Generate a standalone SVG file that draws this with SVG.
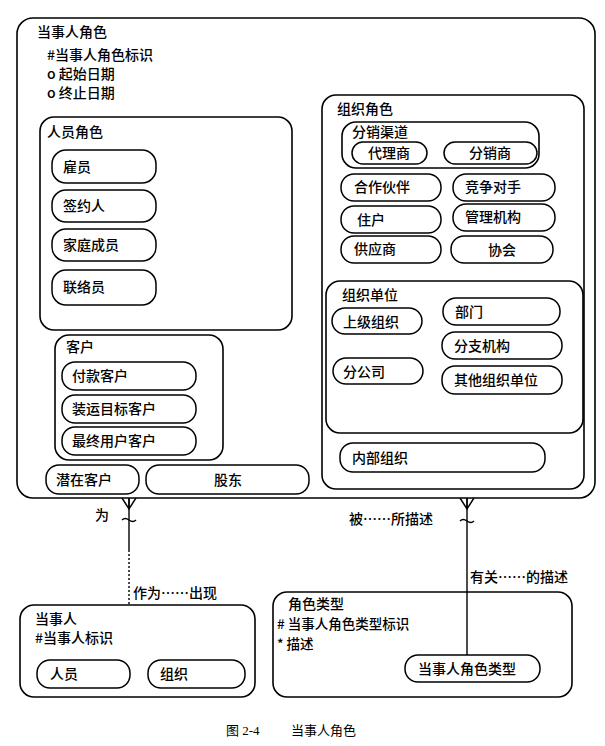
<svg xmlns="http://www.w3.org/2000/svg" width="605" height="746" viewBox="0 0 605 746">
<style>
  .box{fill:none;stroke:#000;stroke-width:1.6}
  .nd{fill:#fff;stroke:#000;stroke-width:1.5}
  text{font-family:"Noto Sans CJK SC","Liberation Sans",sans-serif;font-size:14px;font-weight:500;fill:#000}
  .c{text-anchor:middle}
  .sm{font-size:13.5px}
  .ln{fill:none;stroke:#000;stroke-width:1.4}
  .cap{font-family:"Liberation Serif","Noto Sans CJK SC",serif;font-size:13px;font-weight:normal}
</style>
<rect width="605" height="746" fill="#fff"/>

<g id="party-role">
  <rect class="box" x="17" y="18" width="578" height="480" rx="16"/>
  <text x="37" y="37">当事人角色</text>
  <text x="47" y="60">#当事人角色标识</text>
  <text x="47" y="79">o 起始日期</text>
  <text x="47" y="98">o 终止日期</text>
</g>

<g id="person-role">
  <rect class="box" x="40" y="117" width="252" height="213" rx="14"/>
  <text x="47" y="137">人员角色</text>
</g>
<g id="employee"><rect class="nd" x="52" y="150" width="104" height="33" rx="14"/><text x="63" y="172">雇员</text></g>
<g id="contractor"><rect class="nd" x="52" y="190" width="104" height="32" rx="14"/><text x="63" y="211">签约人</text></g>
<g id="family"><rect class="nd" x="52" y="229" width="104" height="32" rx="14"/><text x="63" y="250">家庭成员</text></g>
<g id="contact"><rect class="nd" x="52" y="270" width="104" height="35" rx="14"/><text x="63" y="292">联络员</text></g>

<g id="customer">
  <rect class="box" x="55" y="335" width="168" height="125" rx="14"/>
  <text x="66" y="352">客户</text>
</g>
<g id="bill-to"><rect class="nd" x="62" y="362" width="134" height="28" rx="13"/><text x="72" y="381">付款客户</text></g>
<g id="ship-to"><rect class="nd" x="62" y="395" width="134" height="28" rx="13"/><text x="72" y="414">装运目标客户</text></g>
<g id="end-user"><rect class="nd" x="62" y="427" width="134" height="28" rx="13"/><text x="72" y="446">最终用户客户</text></g>
<g id="prospect"><rect class="nd" x="46" y="465" width="93" height="29" rx="13"/><text x="56" y="485">潜在客户</text></g>
<g id="shareholder"><rect class="nd" x="146" y="465" width="163" height="29" rx="13"/><text class="c" x="228" y="485">股东</text></g>

<g id="org-role">
  <rect class="box" x="322" y="95" width="262" height="394" rx="14"/>
  <text x="337" y="114">组织角色</text>
</g>
<g id="channel">
  <rect class="box" x="342" y="122" width="197" height="46" rx="14"/>
  <text x="352" y="137">分销渠道</text>
</g>
<g id="agent"><rect class="nd" x="352" y="142" width="75" height="22" rx="11"/><text class="c" x="389" y="158">代理商</text></g>
<g id="distributor"><rect class="nd" x="444" y="142" width="93" height="22" rx="11"/><text class="c" x="490" y="158">分销商</text></g>
<g id="partner"><rect class="nd" x="341" y="174" width="100" height="27" rx="13"/><text x="354" y="192">合作伙伴</text></g>
<g id="competitor"><rect class="nd" x="453" y="174" width="102" height="27" rx="13"/><text x="465" y="192">竞争对手</text></g>
<g id="household"><rect class="nd" x="341" y="206" width="100" height="27" rx="13"/><text x="357" y="225">住户</text></g>
<g id="regulator"><rect class="nd" x="453" y="204" width="102" height="27" rx="13"/><text x="465" y="222">管理机构</text></g>
<g id="supplier"><rect class="nd" x="341" y="236" width="100" height="27" rx="13"/><text x="354" y="254">供应商</text></g>
<g id="association"><rect class="nd" x="451" y="236" width="102" height="27" rx="13"/><text class="c" x="502" y="255">协会</text></g>

<g id="org-unit">
  <rect class="box" x="326" y="281" width="257" height="152" rx="14"/>
  <text x="342" y="300">组织单位</text>
</g>
<g id="parent-org"><rect class="nd" x="332" y="308" width="90" height="26" rx="13"/><text x="343" y="327">上级组织</text></g>
<g id="department"><rect class="nd" x="443" y="298" width="117" height="27" rx="13"/><text x="455" y="317">部门</text></g>
<g id="division"><rect class="nd" x="442" y="332" width="120" height="27" rx="13"/><text x="454" y="351">分支机构</text></g>
<g id="subsidiary"><rect class="nd" x="333" y="358" width="90" height="26" rx="13"/><text x="343" y="377">分公司</text></g>
<g id="other-unit"><rect class="nd" x="442" y="366" width="120" height="28" rx="13"/><text x="454" y="385">其他组织单位</text></g>
<g id="internal-org"><rect class="nd" x="340" y="443" width="205" height="29" rx="13"/><text x="352" y="463">内部组织</text></g>

<g id="party">
  <rect class="box" x="20" y="605" width="235" height="92" rx="14"/>
  <text x="35" y="624">当事人</text>
  <text x="35" y="643">#当事人标识</text>
</g>
<g id="person"><rect class="nd" x="37" y="660" width="93" height="28" rx="13"/><text x="50" y="679">人员</text></g>
<g id="organization"><rect class="nd" x="148" y="660" width="97" height="28" rx="13"/><text x="160" y="679">组织</text></g>

<g id="role-type">
  <rect class="box" x="273" y="592" width="299" height="105" rx="14"/>
  <text x="288" y="609">角色类型</text>
  <text class="sm" x="277" y="629"># 当事人角色类型标识</text>
  <text class="sm" x="277" y="649">* 描述</text>
</g>
<g id="party-role-type"><rect class="nd" x="405" y="655" width="135" height="27" rx="13"/><text x="418" y="674">当事人角色类型</text></g>

<g id="connectors">
  <path class="ln" d="M129 498 V550"/>
  <path class="ln" d="M129 550 V605" stroke-dasharray="2 2"/>
  <path class="ln" d="M122 498 L129 509 L136 498 M129 498 V509"/>
  <path class="ln" d="M122 520 q3 -3 7 0 q4 3 7 0"/>
  <path class="ln" d="M467 498 V655"/>
  <path class="ln" d="M460 498 L467 509 L474 498 M467 498 V509"/>
  <path class="ln" d="M460 521 q3 -3 7 0 q4 3 7 0"/>
  <text x="95" y="520">为</text>
  <text x="349" y="524">被……所描述</text>
  <text x="133" y="598">作为……出现</text>
  <text x="470" y="582">有关……的描述</text>
</g>

<text class="cap" x="226" y="735">图 2-4</text>
<text class="cap" x="291" y="735">当事人角色</text>
</svg>
